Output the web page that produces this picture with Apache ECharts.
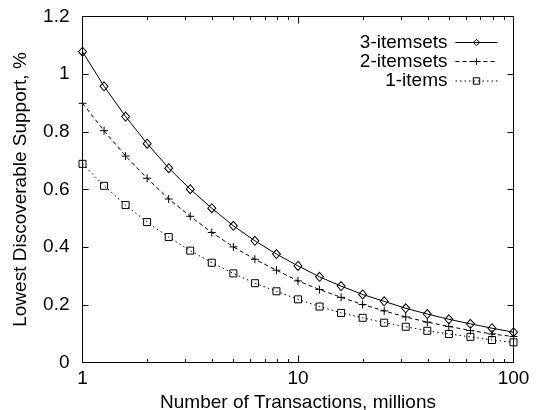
<!DOCTYPE html>
<html>
<head>
<meta charset="utf-8">
<script src="https://cdn.jsdelivr.net/npm/echarts@6/dist/echarts.min.js"></script>
<style>
  html, body { margin: 0; padding: 0; background: #fff; }
  #chart { width: 538px; height: 410px; }
</style>
</head>
<body>
<div id="chart"></div>
<script>
// Number of transactions (millions), ten steps per decade
var transactions = [1, 1.259, 1.585, 1.995, 2.512, 3.162, 3.981, 5.012, 6.310, 7.943,
  10, 12.59, 15.85, 19.95, 25.12, 31.62, 39.81, 50.12, 63.10, 79.43, 100];

// Lowest discoverable support, %
var itemsets3 = [1.078, 0.958, 0.853, 0.759, 0.674, 0.601, 0.535, 0.474, 0.422, 0.376,
  0.335, 0.297, 0.265, 0.236, 0.212, 0.188, 0.168, 0.150, 0.134, 0.119, 0.105];
var itemsets2 = [0.899, 0.804, 0.716, 0.639, 0.567, 0.507, 0.451, 0.401, 0.358, 0.320,
  0.283, 0.253, 0.226, 0.201, 0.179, 0.158, 0.140, 0.125, 0.111, 0.099, 0.090];
var items1 = [0.689, 0.613, 0.546, 0.487, 0.435, 0.388, 0.346, 0.309, 0.275, 0.247,
  0.219, 0.194, 0.172, 0.155, 0.138, 0.124, 0.110, 0.099, 0.089, 0.078, 0.070];

var seriesNames = ['3-itemsets', '2-itemsets', '1-items'];

// Minor log ticks (2..9 within each decade)
var minorTicks = [2, 3, 4, 5, 6, 7, 8, 9, 20, 30, 40, 50, 60, 70, 80, 90];

function pairs(ys) {
  return transactions.map(function (x, i) { return [x, ys[i]]; });
}

var FONT = 'Liberation Sans, Arial, Helvetica, sans-serif';
var FS = 19;
var INK = '#000';
var CLEAR = 'rgba(255,255,255,0)';

var chart = echarts.init(document.getElementById('chart'), null, { renderer: 'canvas' });

function frameAxis(extra) {
  return Object.assign({
    axisLine: { show: false, onZero: false },
    splitLine: { show: false },
    axisLabel: { show: false }
  }, extra);
}

function legendRow(name, top) {
  return {
    data: [name],
    right: 40,
    top: top,
    orient: 'vertical',
    align: 'right',
    itemWidth: 42,
    itemHeight: 8,
    itemGap: 0,
    padding: 0,
    selectedMode: false,
    itemStyle: { color: CLEAR, borderColor: INK, borderWidth: 1 },
    lineStyle: { color: INK, width: 1 },
    textStyle: { color: INK, fontFamily: FONT, fontSize: FS, padding: [0, 3, 0, 0] }
  };
}

var option = {
  backgroundColor: '#fff',
  animation: false,
  grid: {
    left: 82.5, right: 24.5, top: 16.5, bottom: 47.5,
    containLabel: false, outerBoundsMode: 'none',
    show: true, borderColor: INK, borderWidth: 1, backgroundColor: 'transparent'
  },
  legend: [
    legendRow(seriesNames[0], 33),
    legendRow(seriesNames[1], 52),
    legendRow(seriesNames[2], 71.5)
  ],
  xAxis: [
    frameAxis({
      type: 'log',
      logBase: 10,
      min: 1,
      max: 100,
      position: 'bottom',
      name: 'Number of Transactions, millions',
      nameLocation: 'middle',
      nameGap: 26,
      nameTextStyle: { color: INK, fontFamily: FONT, fontSize: FS },
      axisTick: { show: true, inside: true, length: 7, lineStyle: { color: INK } },
      axisLabel: { show: true, color: INK, fontFamily: FONT, fontSize: FS, margin: 7 }
    }),
    frameAxis({
      type: 'log',
      logBase: 10,
      min: 1,
      max: 100,
      position: 'top',
      axisTick: { show: true, inside: true, length: 7, lineStyle: { color: INK } }
    })
  ],
  yAxis: [
    frameAxis({
      type: 'value',
      min: 0,
      max: 1.2,
      interval: 0.2,
      position: 'left',
      name: 'Lowest Discoverable Support, %',
      nameLocation: 'middle',
      nameGap: 52,
      nameTextStyle: { color: INK, fontFamily: FONT, fontSize: FS },
      axisTick: { show: true, inside: true, length: 6, lineStyle: { color: INK } },
      axisLabel: { show: true, color: INK, fontFamily: FONT, fontSize: FS, margin: 13 }
    }),
    frameAxis({
      type: 'value',
      min: 0,
      max: 1.2,
      interval: 0.2,
      position: 'right',
      axisTick: { show: true, inside: true, length: 6, lineStyle: { color: INK } }
    })
  ],
  series: [
    {
      name: seriesNames[0],
      type: 'line',
      data: pairs(itemsets3),
      symbol: 'diamond',
      symbolSize: [8, 9],
      z: 3,
      lineStyle: { color: INK, width: 1, type: 'solid' },
      itemStyle: { color: CLEAR, borderColor: INK, borderWidth: 1 }
    },
    {
      name: seriesNames[1],
      type: 'line',
      data: pairs(itemsets2),
      symbol: 'path://M0,5L10,5M5,0L5,10',
      symbolSize: 8,
      z: 3,
      lineStyle: { color: INK, width: 1, type: [4, 3] },
      itemStyle: { color: CLEAR, borderColor: INK, borderWidth: 1 }
    },
    {
      name: seriesNames[2],
      type: 'line',
      data: pairs(items1),
      symbol: 'rect',
      symbolSize: 7,
      z: 3,
      lineStyle: { color: INK, width: 1, type: [1.5, 3] },
      itemStyle: { color: CLEAR, borderColor: INK, borderWidth: 1 }
    },
    {
      // short minor ticks along the top and bottom edges of the log axis
      type: 'custom',
      silent: true,
      clip: false,
      data: minorTicks.map(function (v) { return [v, 0.5]; }),
      renderItem: function (params, api) {
        var cs = params.coordSys;
        var x = Math.round(api.coord([api.value(0), api.value(1)])[0]) + 0.5;
        var yb = cs.y + cs.height;
        var len = 3.5;
        return {
          type: 'group',
          children: [
            { type: 'line', shape: { x1: x, y1: yb, x2: x, y2: yb - len }, style: { stroke: INK, lineWidth: 1 } },
            { type: 'line', shape: { x1: x, y1: cs.y, x2: x, y2: cs.y + len }, style: { stroke: INK, lineWidth: 1 } }
          ]
        };
      }
    }
  ]
};

chart.setOption(option);
</script>
</body>
</html>
